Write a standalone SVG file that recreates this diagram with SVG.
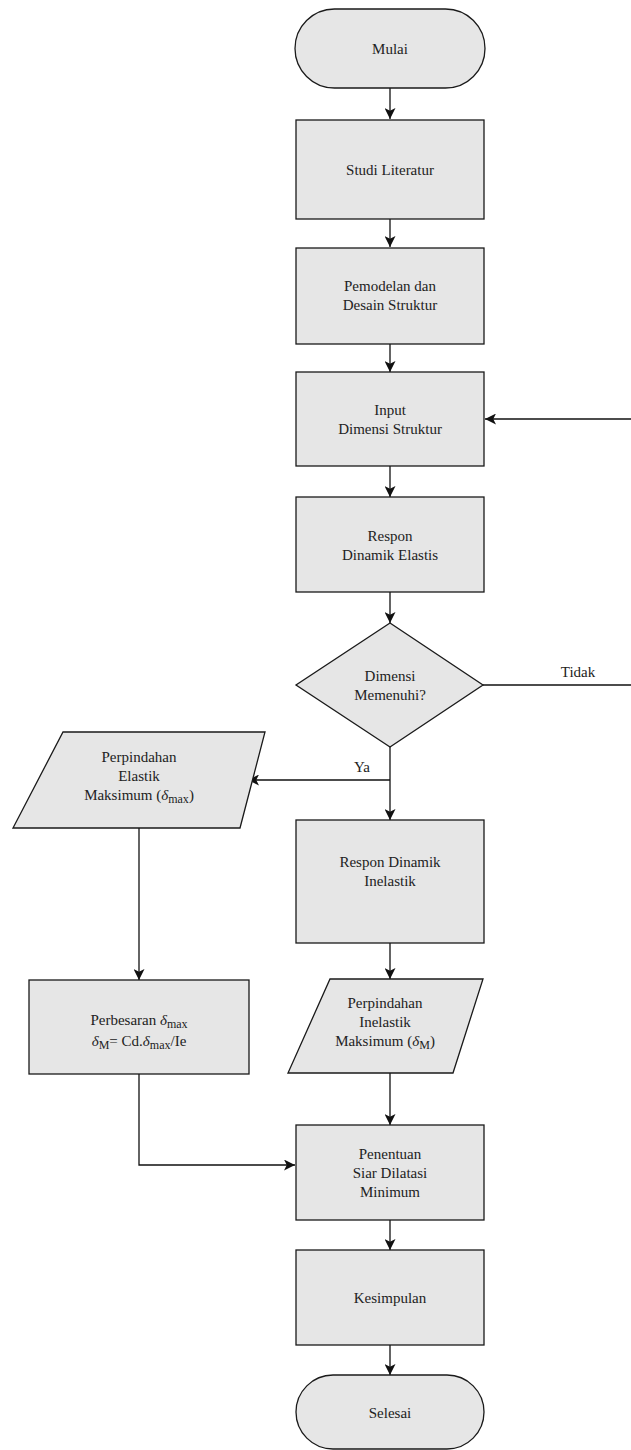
<svg xmlns="http://www.w3.org/2000/svg" width="631" height="1450" viewBox="0 0 631 1450">
<style>
.n{fill:#e6e6e6;stroke:#1a1a1a;stroke-width:1.3}
.t{font-family:'Liberation Serif','Times New Roman','DejaVu Serif',serif;font-size:15px;fill:#222;text-anchor:middle}
.c{fill:none;stroke:#111;stroke-width:1.3}
.d{font-style:italic}
.s{font-size:12px}
</style>
<defs>
<marker id="ah" viewBox="0 0 10 10" refX="10" refY="5" markerWidth="11" markerHeight="11" markerUnits="userSpaceOnUse" orient="auto">
<path d="M0,0 L10,5 L0,10 L2.5,5 Z" fill="#111"/>
</marker>
</defs>
<g id="connectors">
<path class="c" d="M390,88 V119" marker-end="url(#ah)"/>
<path class="c" d="M390,219 V247" marker-end="url(#ah)"/>
<path class="c" d="M390,344 V372" marker-end="url(#ah)"/>
<path class="c" d="M390,466 V497" marker-end="url(#ah)"/>
<path class="c" d="M390,592 V623" marker-end="url(#ah)"/>
<path class="c" d="M483,685 H631"/>
<path class="c" d="M631,419 H485" marker-end="url(#ah)"/>
<path class="c" d="M390,747 V820" marker-end="url(#ah)"/>
<path class="c" d="M390,780 H248" marker-end="url(#ah)"/>
<path class="c" d="M139,828 V980" marker-end="url(#ah)"/>
<path class="c" d="M390,943 V979" marker-end="url(#ah)"/>
<path class="c" d="M390,1073 V1125" marker-end="url(#ah)"/>
<path class="c" d="M139,1074 V1165 H295" marker-end="url(#ah)"/>
<path class="c" d="M390,1220 V1250" marker-end="url(#ah)"/>
<path class="c" d="M390,1345 V1375" marker-end="url(#ah)"/>
<text class="t" x="578" y="677">Tidak</text>
<text class="t" x="362" y="772">Ya</text>
</g>
<g id="mulai">
<rect class="n" x="295" y="9" width="190" height="79" rx="39.5"/>
<text class="t" x="390" y="54">Mulai</text>
</g>
<g id="studi">
<rect class="n" x="296" y="120" width="188" height="99"/>
<text class="t" x="390" y="175">Studi Literatur</text>
</g>
<g id="pemodelan">
<rect class="n" x="296" y="248" width="188" height="96"/>
<text class="t" x="390" y="291">Pemodelan dan</text>
<text class="t" x="390" y="310">Desain Struktur</text>
</g>
<g id="input">
<rect class="n" x="296" y="372" width="188" height="94"/>
<text class="t" x="390" y="415">Input</text>
<text class="t" x="390" y="434">Dimensi Struktur</text>
</g>
<g id="respon-elastis">
<rect class="n" x="296" y="497" width="188" height="95"/>
<text class="t" x="390" y="541">Respon</text>
<text class="t" x="390" y="560">Dinamik Elastis</text>
</g>
<g id="keputusan">
<polygon class="n" points="390,623 483,685 390,747 296,685"/>
<text class="t" x="390" y="681">Dimensi</text>
<text class="t" x="390" y="700">Memenuhi?</text>
</g>
<g id="perpindahan-elastik">
<polygon class="n" points="63,732 265,732 240,828 13,828"/>
<text class="t" x="139" y="762">Perpindahan</text>
<text class="t" x="139" y="781">Elastik</text>
<text class="t" x="139" y="800">Maksimum (<tspan class="d">δ</tspan><tspan class="s" dy="3">max</tspan><tspan dy="-3">)</tspan></text>
</g>
<g id="perbesaran">
<rect class="n" x="29" y="980" width="220" height="94"/>
<text class="t" x="139" y="1025">Perbesaran <tspan class="d">δ</tspan><tspan class="s" dy="3">max</tspan></text>
<text class="t" x="139" y="1046"><tspan class="d">δ</tspan><tspan class="s" dy="3">M</tspan><tspan dy="-3">= Cd.</tspan><tspan class="d">δ</tspan><tspan class="s" dy="3">max</tspan><tspan dy="-3">/Ie</tspan></text>
</g>
<g id="respon-inelastik">
<rect class="n" x="296" y="820" width="188" height="123"/>
<text class="t" x="390" y="867">Respon Dinamik</text>
<text class="t" x="390" y="886">Inelastik</text>
</g>
<g id="perpindahan-inelastik">
<polygon class="n" points="330,979 483,979 453,1073 288,1073"/>
<text class="t" x="385" y="1008">Perpindahan</text>
<text class="t" x="385" y="1027">Inelastik</text>
<text class="t" x="385" y="1046">Maksimum (<tspan class="d">δ</tspan><tspan class="s" dy="3">M</tspan><tspan dy="-3">)</tspan></text>
</g>
<g id="penentuan">
<rect class="n" x="296" y="1125" width="188" height="95"/>
<text class="t" x="390" y="1159">Penentuan</text>
<text class="t" x="390" y="1178">Siar Dilatasi</text>
<text class="t" x="390" y="1197">Minimum</text>
</g>
<g id="kesimpulan">
<rect class="n" x="296" y="1250" width="188" height="95"/>
<text class="t" x="390" y="1303">Kesimpulan</text>
</g>
<g id="selesai">
<rect class="n" x="296" y="1375" width="188" height="74" rx="37"/>
<text class="t" x="390" y="1418">Selesai</text>
</g>
</svg>
